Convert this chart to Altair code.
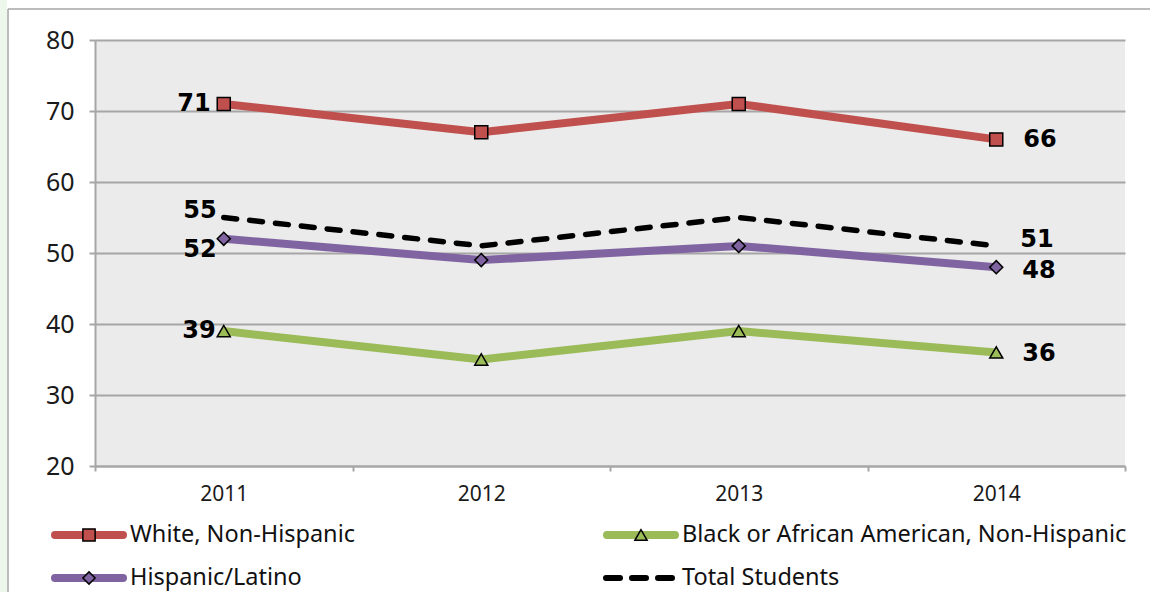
import altair as alt
import pandas as pd

# ---- data ----
years = ["2011", "2012", "2013", "2014"]
white = [71, 67, 71, 66]
black = [39, 35, 39, 36]
hispanic = [52, 49, 51, 48]
total = [55, 51, 55, 51]

S_W = "White, Non-Hispanic"
S_B = "Black or African American, Non-Hispanic"
S_H = "Hispanic/Latino"
S_T = "Total Students"
series_names = [S_W, S_B, S_H, S_T]
series_values = [white, black, hispanic, total]

# legend grid (column, row) for each series
legend_col = [0, 1, 0, 1]
legend_row = [0, 0, 1, 1]

# ---- styles ----
colors = ["#c0504d", "#9bbb59", "#8064a2", "#000000"]
shapes = ["square", "triangle-up", "diamond", "circle"]
# label offsets (dx, dy) at first / last point
label_style = {
    S_W: ((-13, 0), (27, 1)),
    S_B: ((-8, 0), (26, 2)),
    S_H: ((-7, 11), (26, 4)),
    S_T: ((-7, -7), (24, -6)),
}

rows = []
for name, vals in zip(series_names, series_values):
    for yr, v in zip(years, vals):
        rows.append({"series": name, "year": yr, "value": v})
df = pd.DataFrame(rows)
legend_df = pd.DataFrame({"series": series_names, "col": legend_col, "row": legend_row})

cscale = alt.Scale(domain=series_names, range=colors)
sscale = alt.Scale(domain=series_names, range=shapes)

X = alt.X(
    "year:O",
    scale=alt.Scale(paddingInner=0, paddingOuter=0),
    axis=alt.Axis(
        title=None, labelAngle=0, tickBand="extent", grid=False,
        tickSize=5, tickColor="#a6a6a6", tickWidth=2,
        domainColor="#a6a6a6", domainWidth=2,
        labelFont="Noto Sans", labelFontSize=21, labelColor="#1a1a1a",
        labelPadding=12,
    ),
)
Y = alt.Y(
    "value:Q",
    scale=alt.Scale(domain=[20, 80], nice=False, zero=False),
    axis=alt.Axis(
        title=None, values=[20, 30, 40, 50, 60, 70, 80],
        grid=True, gridColor="#a6a6a6", gridWidth=2,
        tickSize=6, tickColor="#a6a6a6", tickWidth=2,
        domainColor="#a6a6a6", domainWidth=2,
        labelFont="Noto Sans", labelFontSize=25, labelColor="#1a1a1a",
        labelPadding=15,
    ),
)

base = alt.Chart(df)

solid = base.transform_filter(
    alt.FieldOneOfPredicate(field="series", oneOf=[S_W, S_B, S_H])
).mark_line(strokeWidth=8, strokeJoin="round").encode(
    x=X, y=Y, color=alt.Color("series:N", scale=cscale, legend=None), detail="series:N"
)

dashed = base.transform_filter(alt.datum.series == S_T).mark_line(
    strokeWidth=5.5, strokeDash=[13, 13], strokeCap="round", color="black"
).encode(x=X, y=Y)

points = base.transform_filter(
    alt.FieldOneOfPredicate(field="series", oneOf=[S_W, S_B, S_H])
).mark_point(filled=True, stroke="black", strokeWidth=1.5, size=170, opacity=1).encode(
    x=X, y=Y,
    shape=alt.Shape("series:N", scale=sscale, legend=None),
    fill=alt.Fill("series:N", scale=cscale, legend=None),
)

label_layers = []
for name in series_names:
    (ldx, ldy), (rdx, rdy) = label_style[name]
    for yr, align, dx, dy in ((years[0], "right", ldx, ldy), (years[-1], "left", rdx, rdy)):
        label_layers.append(
            base.transform_filter(
                (alt.datum.series == name) & (alt.datum.year == yr)
            ).mark_text(
                align=align, baseline="middle", dx=dx, dy=dy,
                font="DejaVu Sans", fontWeight="bold", fontSize=24, color="black",
            ).encode(x=X, y=Y, text="value:Q")
        )

dummy = pd.DataFrame({"a": [0]})
green = alt.Chart(dummy).mark_rect(color="#eef7eb").encode(
    x=alt.value(-95), x2=alt.value(-88), y=alt.value(-40), y2=alt.value(560)
)
frame_left = alt.Chart(dummy).mark_rule(color="#a6a6a6", strokeWidth=1.5).encode(
    x=alt.value(-87), y=alt.value(-31), y2=alt.value(560)
)
frame_top = alt.Chart(dummy).mark_rule(color="#a6a6a6", strokeWidth=1.5).encode(
    x=alt.value(-87), x2=alt.value(1060), y=alt.value(-31)
)

main = alt.layer(solid, dashed, points, *label_layers)

# ---- custom legend (line + marker + label) ----
LX = alt.X("col:Q", scale=alt.Scale(domain=[0, 1], range=[-6, 546]), axis=None)
LY = alt.Y("row:Q", scale=alt.Scale(domain=[0, 1], range=[495, 538]), axis=None)
lbase = alt.Chart(legend_df)

leg_solid = lbase.transform_filter(
    alt.FieldOneOfPredicate(field="series", oneOf=[S_W, S_B, S_H])
).mark_rule(strokeWidth=8, strokeCap="round", xOffset=-34, x2Offset=34).encode(
    x=LX, x2="col:Q", y=LY, color=alt.Color("series:N", scale=cscale, legend=None)
)
leg_dash = lbase.transform_filter(alt.datum.series == S_T).mark_rule(
    strokeWidth=6, strokeCap="round", strokeDash=[14, 12], color="black",
    xOffset=-35, x2Offset=37,
).encode(x=LX, x2="col:Q", y=LY)
leg_pts = lbase.transform_filter(
    alt.FieldOneOfPredicate(field="series", oneOf=[S_W, S_B, S_H])
).mark_point(filled=True, stroke="black", strokeWidth=1.5, size=150, opacity=1).encode(
    x=LX, y=LY,
    shape=alt.Shape("series:N", scale=sscale, legend=None),
    fill=alt.Fill("series:N", scale=cscale, legend=None),
)
leg_text = lbase.mark_text(
    align="left", baseline="middle", dx=41, font="Noto Sans", fontSize=23.5, color="#111111"
).encode(x=LX, y=LY, text="series:N")

legend = alt.layer(leg_solid, leg_dash, leg_pts, leg_text)

chart = alt.layer(green, frame_left, frame_top, main, legend).resolve_scale(
    x="independent", y="independent"
).properties(
    width=1030, height=426,
    autosize=alt.AutoSizeParams(type="none"),
    padding={"left": 95, "top": 40, "right": 25, "bottom": 126},
    background="white",
).configure_view(stroke=None, fill="#ebebeb")

chart.save("out.html", embed_options={"renderer": "svg", "actions": False})
